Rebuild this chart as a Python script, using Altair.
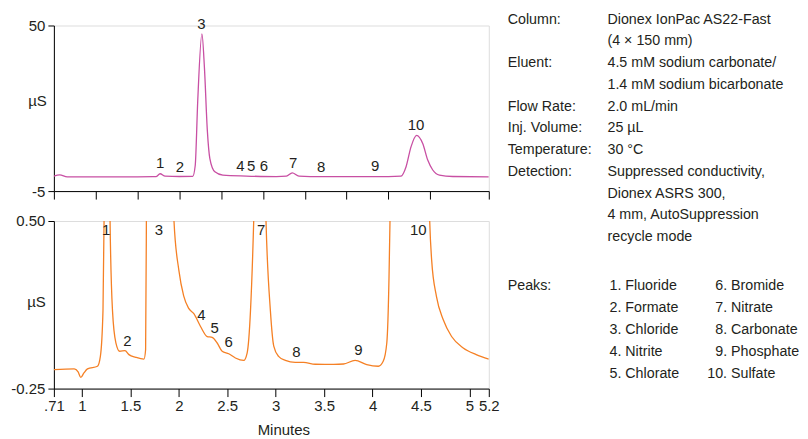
import altair as alt
import pandas as pd

FONT = "Liberation Sans, Arial, sans-serif"
TXT = "#231f20"

# ---- top chromatogram (full scale) ----
top_t = [0.00, 0.07, 0.16, 0.60, 1.00, 1.22, 1.27, 1.33, 1.50, 1.66, 1.69, 1.72, 1.77, 1.80,
         1.835, 1.865, 1.925, 2.02, 2.30, 2.66, 2.78, 2.85, 2.93, 3.20, 4.00, 4.15, 4.21,
         4.27, 4.337, 4.41, 4.47, 4.53, 4.61, 4.77, 5.20]
top_v = [-0.05, 0.35, -0.30, -0.30, -0.25, -0.20, 0.75, -0.05, -0.15, -0.10, 3.5, 25.0, 47.2, 36.0,
         15.0, 5.8, 1.4, 0.3, 0.0, -0.2, -0.05, 1.05, 0.0, -0.2, -0.2, -0.05, 3.0,
         9.7, 13.5, 10.8, 5.3, 2.0, 0.3, -0.15, -0.25]

top_lab = ["1", "2", "3", "4", "5", "6", "7", "8", "9", "10"]
top_lab_t = [1.272, 1.506, 1.765, 2.23, 2.36, 2.51, 2.86, 3.196, 3.84, 4.33]
top_lab_v = [4.2, 3.0, 50.5, 3.3, 3.3, 3.3, 4.3, 3.0, 3.2, 16.9]

# ---- bottom chromatogram (expanded scale) ----
bot_t = [0.71, 0.92, 0.96, 0.988, 1.02, 1.057, 1.16, 1.19, 1.217, 1.228, 1.26, 1.29, 1.315,
         1.35, 1.39, 1.444, 1.485, 1.555, 1.64, 1.657, 1.665, 1.77, 1.95, 2.00, 2.05, 2.10,
         2.155, 2.224, 2.293, 2.344, 2.396, 2.447, 2.515, 2.584, 2.67, 2.705, 2.74, 2.773,
         2.84, 2.90, 2.945, 2.98, 3.03, 3.10, 3.202, 3.288, 3.408, 3.60, 3.70, 3.82, 3.94,
         4.06, 4.11, 4.147, 4.17, 4.18, 4.40, 4.59, 4.61, 4.66, 4.73, 4.816, 4.936, 5.07, 5.20]
bot_v = [-0.165, -0.162, -0.175, -0.200, -0.180, -0.162, -0.150, -0.106, 0.10, 0.5, 3.0, 0.5, 0.10,
         -0.045, -0.083, -0.080, -0.098, -0.110, -0.118, -0.076, 0.5, 47.0, 0.5, 0.28, 0.165, 0.11,
         0.085, 0.028, -0.017, -0.021, -0.046, -0.083, -0.094, -0.113, -0.124, -0.091, 0.10, 0.5,
         2.0, 0.5, 0.10, -0.06, -0.106, -0.124, -0.133, -0.133, -0.141, -0.142, -0.140, -0.124, -0.143,
         -0.150, -0.128, -0.046, 0.25, 0.5, 13.0, 0.5, 0.326, 0.162, 0.058, -0.017, -0.068, -0.098, -0.118]

bot_lab = ["1", "2", "3", "4", "5", "6", "7", "8", "9", "10"]
bot_lab_t = [1.249, 1.469, 1.794, 2.234, 2.371, 2.515, 2.849, 3.213, 3.854, 4.472]
bot_lab_v = [0.46, -0.039, 0.46, 0.080, 0.021, -0.043, 0.46, -0.088, -0.076, 0.46]

top_xticks = [0, 0.5, 1, 1.5, 2, 2.5, 3, 3.5, 4, 4.5, 5.2]
bot_xticks = [0.71, 1, 1.5, 2, 2.5, 3, 3.5, 4, 4.5, 5, 5.2]

cond_key_a = ["Column:"]
cond_key_b = ["Eluent:"]
cond_key_c = ["Flow Rate:", "Inj. Volume:", "Temperature:", "Detection:"]
cond_vals = ["Dionex IonPac AS22-Fast", "(4 \u00d7 150 mm)", "4.5 mM sodium carbonate/",
             "1.4 mM sodium bicarbonate", "2.0 mL/min", "25 \u00b5L", "30 \u00b0C",
             "Suppressed conductivity,", "Dionex ASRS 300,", "4 mm, AutoSuppression", "recycle mode"]
peaks_a = ["1. Fluoride", "2. Formate", "3. Chloride", "4. Nitrite", "5. Chlorate"]
peaks_b = ["6. Bromide", "7. Nitrate", "8. Carbonate", "9. Phosphate"]
peaks_c = ["10. Sulfate"]

top_df = pd.DataFrame({"t": top_t, "v": top_v})
bot_df = pd.DataFrame({"t": bot_t, "v": bot_v})
top_lab_df = pd.DataFrame({"t": top_lab_t, "v": top_lab_v, "lab": top_lab})
bot_lab_df = pd.DataFrame({"t": bot_lab_t, "v": bot_lab_v, "lab": bot_lab})

W = 436
FS = 15      # tick / axis text
TS = 14.3    # annotation text
LH = 21.8

def yaxis(values, expr, tx, ty):
    return alt.Axis(values=values, labelExpr=expr, title="\u00b5S", titleAngle=0,
                    titleX=tx, titleY=ty, titleAlign="center", titleBaseline="middle",
                    titleFontWeight="normal", titleFont=FONT, titleFontSize=FS,
                    labelFont=FONT, labelFontSize=FS, labelColor=TXT, titleColor=TXT,
                    tickSize=6, labelPadding=3, grid=False, domainColor="black",
                    tickColor="black", minExtent=45, maxExtent=45)

# top
tx = alt.X("t:Q", scale=alt.Scale(domain=[0, 5.2], nice=False, zero=False),
           axis=alt.Axis(values=top_xticks, labels=False, title=None, tickSize=8,
                         grid=False, domainColor="black", tickColor="black"))
ty = alt.Y("v:Q", scale=alt.Scale(domain=[-5, 50], nice=False, zero=False),
           axis=yaxis([-5, 50], "datum.value < 0 ? '-5' : '50'", -17, 75))

top_line = alt.Chart(top_df).mark_line(color="#c84fa3", strokeWidth=1.3, interpolate="monotone",
                                       clip=True).encode(x=tx, y=ty, order="t:Q")
top_text = alt.Chart(top_lab_df).mark_text(font=FONT, fontSize=FS, color=TXT,
                                           baseline="middle").encode(x="t:Q", y="v:Q", text="lab:N")

def block(lines, x, y, lh=LH):
    return alt.Chart(pd.DataFrame({"s": ["\n".join(lines)]})).mark_text(
        font=FONT, fontSize=TS, color=TXT, align="left", baseline="alphabetic",
        lineBreak="\n", lineHeight=lh).encode(x=alt.value(x), y=alt.value(y), text="s:N")

Y0 = -1.8
info = (block(cond_key_a, 455, Y0) + block(cond_key_b, 455, Y0 + 2 * LH) +
        block(cond_key_c, 455, Y0 + 4 * LH) + block(cond_vals, 555, Y0) +
        block(["Peaks:"], 455, 265, 22) + block(peaks_a, 557, 265, 22) +
        block(peaks_b, 663, 265, 22) + block(peaks_c, 655, 265 + 4 * 22, 22))

top = alt.layer(top_line, top_text, info).properties(width=W, height=166)

# bottom
bx = alt.X("t:Q", scale=alt.Scale(domain=[0.71, 5.2], nice=False, zero=False),
           axis=alt.Axis(values=bot_xticks,
                         labelExpr="datum.value == 0.71 ? '.71' : toString(datum.value)",
                         title="Minutes", titleX=230, titleY=41, titleBaseline="middle",
                         titleFontWeight="normal", titleFont=FONT, titleFontSize=FS,
                         labelFont=FONT, labelFontSize=FS, labelColor=TXT, titleColor=TXT,
                         tickSize=8, labelPadding=2, labelOverlap=False, labelFlush=False,
                         grid=False, domainColor="black", tickColor="black"))
by = alt.Y("v:Q", scale=alt.Scale(domain=[-0.25, 0.5], nice=False, zero=False),
           axis=yaxis([-0.25, 0.5], "datum.value < 0 ? '-0.25' : '0.50'", -18, 81))

bot_line = alt.Chart(bot_df).mark_line(color="#f58025", strokeWidth=1.3, interpolate="monotone",
                                       clip=True).encode(x=bx, y=by, order="t:Q")
bot_text = alt.Chart(bot_lab_df).mark_text(font=FONT, fontSize=FS, color=TXT,
                                           baseline="middle").encode(x="t:Q", y="v:Q", text="lab:N")
bottom = alt.layer(bot_line, bot_text).properties(width=W, height=168)

chart = alt.vconcat(top, bottom, spacing=30, bounds="flush").configure_view(
    stroke=None).configure(padding={"top": 3, "left": 0, "right": 0, "bottom": 0})

chart.save("out.html", embed_options={"renderer": "svg", "actions": False})
